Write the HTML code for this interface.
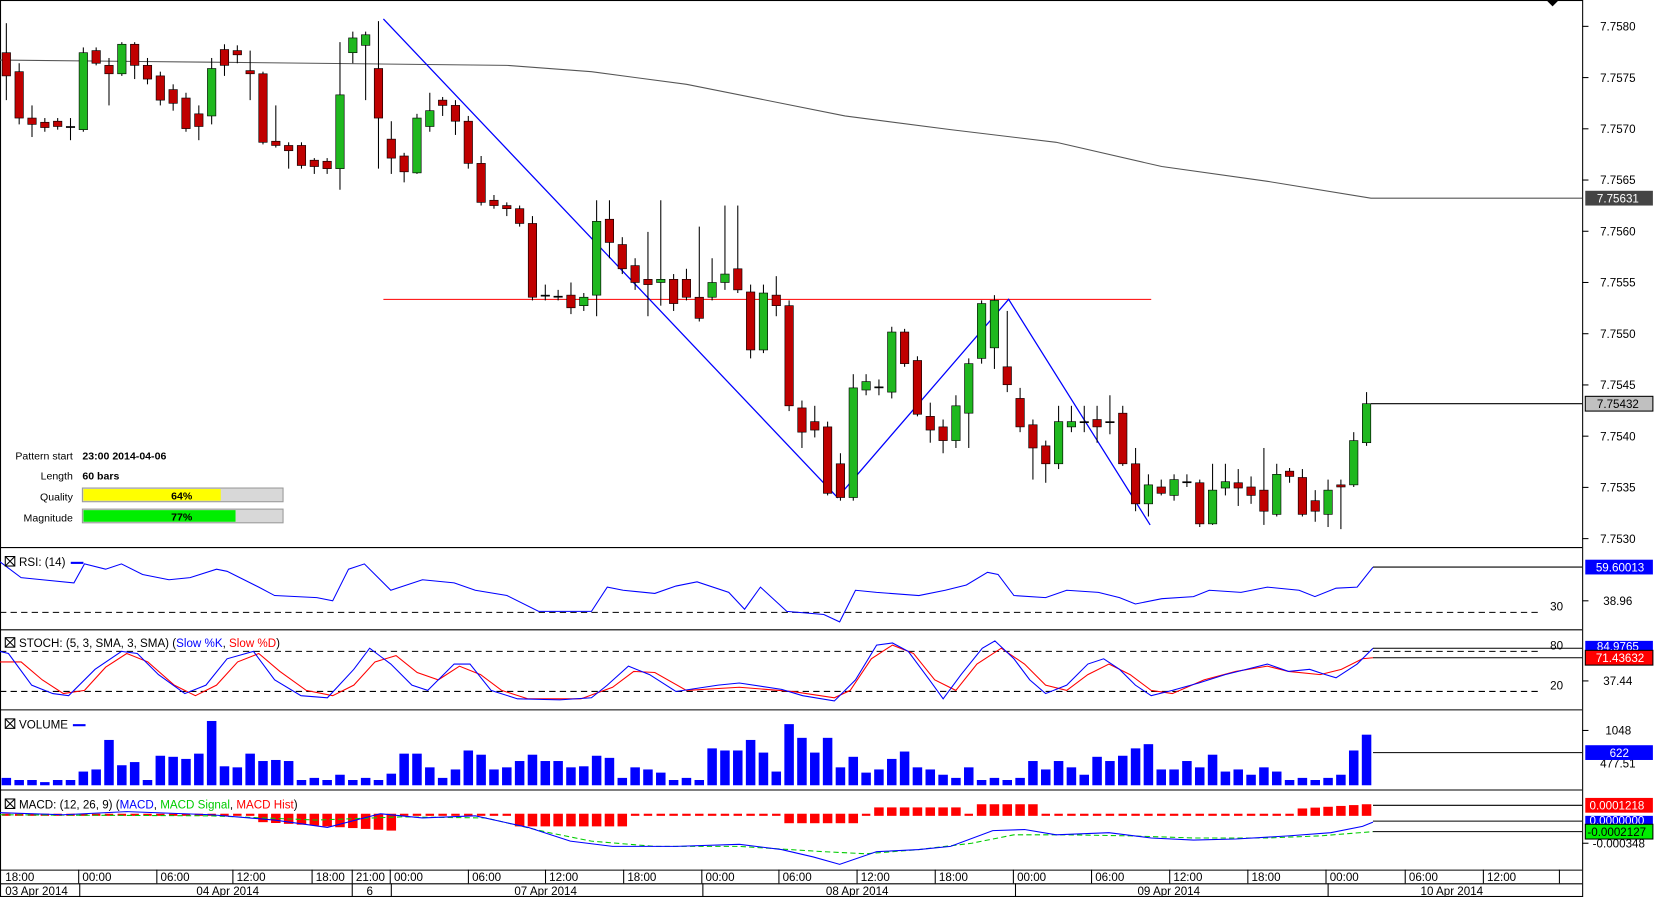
<!DOCTYPE html>
<html><head><meta charset="utf-8"><style>
html,body{margin:0;padding:0;background:#fff;overflow:hidden}
svg{display:block;font-family:"Liberation Sans",sans-serif}
</style></head><body>
<svg id="s" width="1655" height="897" viewBox="0 0 1567 851" preserveAspectRatio="none" xmlns="http://www.w3.org/2000/svg"></svg>
<script>
const S=document.getElementById('s');let h='';
const X=i=>6+12.15*i;
const C=[
['r',50,72,22,95],['r',68,112,60,118],['r',112,118,100,130],['r',116,121,112,125],['r',115,120,112,123],['d',120,121,112,133],
['g',50,123,45,125],['r',48,60,45,62],['r',62,70,55,100],['g',42,70,40,72],['r',42,62,40,75],['r',62,75,55,80],
['r',72,95,68,100],['r',85,98,80,105],['r',93,122,88,125],['r',108,120,100,133],['g',65,110,55,118],['r',47,62,42,72],
['r',48,52,43,60],['r',67,70,48,95],['r',70,135,68,137],['r',134,138,100,140],['r',138,143,135,160],['r',138,157,135,160],
['r',152,158,150,165],['r',153,160,150,165],['g',90,160,40,180],['g',36,50,30,60],['g',33,43,30,95],['r',65,112,20,160],
['r',132,150,115,165],['r',148,163,145,173],['g',112,164,108,165],['g',105,120,88,125],['r',95,100,92,110],['r',100,115,95,128],
['r',115,155,110,160],['r',155,192,148,195],['r',190,195,185,198],['r',195,198,192,205],['r',198,212,195,215],['r',212,282,205,285],
['d',280,281,270,285],['d',281,282,275,285],['r',280,292,268,298],['g',282,290,278,295],['g',210,280,190,300],['r',208,230,190,245],
['r',232,255,225,260],['r',252,268,245,275],['r',265,270,220,300],['g',265,268,190,290],['r',265,288,260,295],['r',265,282,255,285],
['r',282,302,215,305],['g',268,282,245,285],['g',260,268,195,275],['r',255,275,195,278],['r',277,332,270,340],['g',278,332,270,335],
['r',280,290,262,300],['r',290,385,285,390],['r',387,410,380,425],['r',400,408,385,415],['r',405,468,400,470],['r',440,472,430,475],
['g',368,472,355,475],['g',362,370,355,375],['d',367,368,360,375],['g',315,372,310,378],['r',315,345,312,348],['r',342,393,338,395],
['r',395,408,382,420],['r',405,418,398,430],['g',385,418,375,425],['g',345,392,340,425],['g',288,340,285,345],['g',285,330,280,350],
['r',348,365,295,372],['r',378,405,368,410],['r',403,425,398,455],['r',423,440,418,458],['g',400,440,385,445],['g',400,405,385,410],
['d',400,401,385,410],['r',398,405,385,420],['d',400,401,375,412],['r',392,440,385,442],['r',440,478,425,485],['g',460,478,450,490],
['r',462,468,455,470],['g',455,470,450,475],['d',457,458,450,462],['r',458,497,455,500],['g',465,497,440,498],['g',457,463,440,470],
['r',458,463,445,480],['r',462,470,452,478],['r',465,485,425,498],['g',450,488,440,490],['r',447,452,444,458],['r',453,488,445,490],
['r',475,485,465,495],['g',465,488,455,500],['r',460,462,455,502],['g',418,460,410,462],['g',383,420,372,423]];
// panel borders
h+='<rect x="0.5" y="0.5" width="1498" height="850" fill="none" stroke="#000"/>';
[519,597,673,749,825,838].forEach(y=>h+=`<line x1="0" x2="1498" y1="${y+.5}" y2="${y+.5}" stroke="#000"/>`);
// price ticks
for(let k=0;k<11;k++){const y=25+k*48.6;const v=(7.758-k*0.0005).toFixed(4);h+=`<line x1="1498" x2="1504" y1="${y}" y2="${y}" stroke="#000"/><text x="1515" y="${y+4}" font-size="11">${v}</text>`;}
// SMA
h+='<polyline fill="none" stroke="#555" points="0,57 200,59 480,62 560,68 650,80 800,110 900,123 1000,135 1100,158 1200,172 1298,188 1498,188"/>';
h+='<rect x="1501" y="181" width="64" height="14" fill="#444"/><text x="1512" y="192" font-size="11" fill="#fff">7.75631</text>';
h+='<line x1="363" x2="1090" y1="284" y2="284" stroke="#f00"/>';
h+='<polyline fill="none" stroke="#00f" stroke-width="1.2" points="363,18 793,472 955,284 1089,498"/>';
// candles
C.forEach((c,i)=>{const x=X(i);const col=c[0]=='g'?'#1fb81f':(c[0]=='r'?'#c00000':'#000');
h+=`<line x1="${x}" x2="${x}" y1="${c[3]}" y2="${c[4]}" stroke="#000"/>`;
h+=`<rect x="${x-4}" y="${c[1]}" width="8" height="${Math.max(1,c[2]-c[1])}" fill="${col}" stroke="#000" stroke-width="0.6"/>`;});
h+='<line x1="1298" x2="1498" y1="383" y2="383" stroke="#000"/><rect x="1501" y="376" width="64" height="14" fill="#c0c0c0" stroke="#000"/><text x="1512" y="387" font-size="11">7.75432</text>';
h+='<path d="M1464 0 L1476 0 L1470 6Z" fill="#000"/>';
// info
h+='<g font-size="10"><text x="69" y="436" text-anchor="end">Pattern start</text><text x="78" y="436" font-weight="bold">23:00 2014-04-06</text><text x="69" y="455" text-anchor="end">Length</text><text x="78" y="455" font-weight="bold">60 bars</text><text x="69" y="475" text-anchor="end">Quality</text><text x="69" y="495" text-anchor="end">Magnitude</text></g>';
h+='<rect x="78" y="463" width="190" height="13" fill="#d8d8d8" stroke="#999"/><rect x="79" y="464" width="130" height="11" fill="#ff0"/><text x="172" y="474" font-size="10" font-weight="bold" text-anchor="middle">64%</text>';
h+='<rect x="78" y="483" width="190" height="13" fill="#d8d8d8" stroke="#999"/><rect x="79" y="484" width="144" height="11" fill="#0e0"/><text x="172" y="494" font-size="10" font-weight="bold" text-anchor="middle">77%</text>';
// RSI
h+='<line x1="0" x2="1460" y1="581" y2="581" stroke="#000" stroke-dasharray="6,4"/><text x="1480" y="579" font-size="11" text-anchor="end">30</text>';
h+='<polyline fill="none" stroke="#00f" points="0,533 20,548 40,550 70,553 80,535 100,540 115,535 135,545 160,550 180,548 205,540 215,542 245,557 260,565 300,567 315,570 330,540 345,535 370,560 400,550 430,553 450,560 480,565 510,580 560,580 575,557 590,560 620,563 640,556 660,552 690,562 705,578 720,557 745,580 780,583 795,590 810,560 830,562 870,565 895,560 915,555 935,543 945,545 960,565 990,567 1010,560 1040,562 1060,567 1075,573 1100,568 1130,566 1145,560 1175,562 1200,557 1230,560 1245,566 1265,558 1285,557 1300,538"/>';
h+='<line x1="1300" x2="1498" y1="538" y2="538" stroke="#000"/><rect x="1501" y="531" width="64" height="14" fill="#00f"/><text x="1511" y="542" font-size="11" fill="#fff">59.60013</text>';
h+='<line x1="1498" x2="1504" y1="570" y2="570" stroke="#000"/><text x="1518" y="574" font-size="11">38.96</text>';
// STOCH
h+='<line x1="0" x2="1460" y1="618" y2="618" stroke="#000" stroke-dasharray="6,4"/><text x="1480" y="616" font-size="11" text-anchor="end">80</text>';
h+='<line x1="0" x2="1460" y1="656" y2="656" stroke="#000" stroke-dasharray="6,4"/><text x="1480" y="654" font-size="11" text-anchor="end">20</text>';
h+='<polyline fill="none" stroke="#f00" points="0,628 20,628 40,645 60,658 80,655 100,633 120,620 140,628 165,650 185,660 205,650 225,628 245,620 265,637 290,655 315,660 335,650 355,628 375,622 395,638 415,645 435,632 455,640 475,655 500,663 550,663 580,652 600,637 620,638 650,655 700,652 750,656 790,662 805,655 825,625 845,612 865,620 885,645 905,655 925,630 948,615 970,630 990,650 1010,655 1030,640 1050,630 1070,640 1090,655 1110,658 1140,645 1170,637 1200,632 1220,637 1250,640 1270,635 1290,625 1300,624"/>';
h+='<polyline fill="none" stroke="#00f" points="0,618 8,620 30,650 50,658 65,660 90,635 115,618 130,620 150,640 175,658 195,650 215,625 240,618 260,645 285,660 310,662 335,635 350,615 370,630 390,650 405,655 430,630 445,630 465,655 490,663 530,664 560,662 575,650 595,632 615,640 640,656 680,650 700,648 740,654 760,660 790,665 810,645 830,612 845,610 860,618 880,645 893,663 910,640 930,615 942,608 960,625 975,645 990,658 1010,650 1030,630 1045,625 1060,635 1075,650 1090,660 1110,655 1135,648 1160,640 1180,635 1200,630 1220,637 1240,635 1255,640 1265,643 1285,630 1300,615"/>';
h+='<line x1="1300" x2="1498" y1="615" y2="615" stroke="#000"/><line x1="1300" x2="1498" y1="624" y2="624" stroke="#000"/>';
h+='<rect x="1501" y="608" width="64" height="9" fill="#00f"/><text x="1512" y="617" font-size="11" fill="#fff">84.9765</text>';
h+='<rect x="1501" y="617" width="64" height="14" fill="#f00" stroke="#000"/><text x="1511" y="628" font-size="11" fill="#fff">71.43632</text>';
h+='<line x1="1498" x2="1504" y1="646" y2="646" stroke="#000"/><text x="1518" y="650" font-size="11">37.44</text>';
// volume
const V=[738,740,740,742,740,740,732,730,702,726,723,740,717,718,720,715,684,727,728,715,722,721,722,740,738,740,735,740,738,740,734,715,715,728,738,730,712,716,730,728,722,716,722,722,728,727,717,719,738,728,730,733,740,738,740,710,712,712,702,714,732,687,700,714,700,728,718,733,730,720,713,728,730,735,738,728,740,738,740,738,722,730,722,728,735,718,722,717,710,706,730,730,722,728,716,732,730,735,728,732,740,738,740,738,735,712,697];
V.forEach((v,i)=>h+=`<rect x="${X(i)-4.5}" y="${v}" width="9" height="${745-v}" fill="#00f"/>`);
h+='<line x1="1300" x2="1498" y1="714" y2="714" stroke="#000"/><line x1="1498" x2="1504" y1="693" y2="693" stroke="#000"/><text x="1520" y="697" font-size="11">1048</text><text x="1515" y="728" font-size="11">477.51</text>';
h+='<rect x="1501" y="707" width="64" height="14" fill="#00f"/><text x="1524" y="718" font-size="11" fill="#fff">622</text>';
// MACD hist
for(let i=0;i<107;i++){const x=X(i);let v=0;
if(i>=20&&i<=30)v=6+(i-20)*0.8;else if(i>=40&&i<=48)v=10;else if(i>=61&&i<=66)v=7;else if(i>=68&&i<=74)v=-6;else if(i>=76&&i<=80)v=-9;else if(i>=101)v=-5+(i-101)*-0.8;else v=i%2?1.5:1;
if(Math.abs(v)<2)h+=`<rect x="${x-4}" y="772" width="8" height="2" fill="#f00"/>`;
else h+=v>0?`<rect x="${x-4.5}" y="772" width="9" height="${v+2}" fill="#f00"/>`:`<rect x="${x-4.5}" y="${772+v}" width="9" height="${-v+2}" fill="#f00"/>`;}
h+='<polyline fill="none" stroke="#0c0" stroke-dasharray="5,3" points="0,773 200,774 300,778 380,775 460,776 520,790 560,798 620,803 700,803 780,808 820,810 870,806 920,800 960,792 1010,792 1070,793 1130,795 1200,795 1250,793 1300,789"/>';
h+='<polyline fill="none" stroke="#00f" points="0,771 60,773 120,770 200,773 260,778 310,785 360,772 400,776 450,774 500,785 540,798 580,803 640,803 700,801 740,806 770,813 795,820 830,808 870,806 900,803 940,788 970,787 1000,792 1050,790 1090,795 1130,797 1170,796 1220,793 1260,790 1290,784 1300,780"/>';
[764,779,789].forEach(y=>h+=`<line x1="1300" x2="1498" y1="${y}" y2="${y}" stroke="#000"/>`);
h+='<line x1="1498" x2="1504" y1="800" y2="800" stroke="#000"/><text x="1508" y="804" font-size="11">-0.000348</text>';
h+='<rect x="1501" y="757" width="64" height="14" fill="#f00"/><text x="1505" y="768" font-size="11" fill="#fff">0.0001218</text>';
h+='<rect x="1501" y="774" width="64" height="8" fill="#00f"/><text x="1505" y="782" font-size="11" fill="#fff">0.0000000</text>';
h+='<rect x="1501" y="782" width="64" height="14" fill="#0e0" stroke="#000"/><text x="1503" y="793" font-size="11">-0.0002127</text>';
// panel titles
function tt(y,t){h+=`<rect x="5" y="${y-8}" width="9" height="9" fill="#fff" stroke="#000"/><path d="M5 ${y-8}L14 ${y+1}M14 ${y-8}L5 ${y+1}" stroke="#000"/><text x="18" y="${y+1}" font-size="11">${t}</text>`;}
tt(536,'RSI: (14)');h+='<line x1="67" x2="79" y1="534" y2="534" stroke="#00f" stroke-width="2"/>';
tt(613,'STOCH: (5, 3, SMA, 3, SMA) (<tspan fill="#00f">Slow %K</tspan>, <tspan fill="#f00">Slow %D</tspan>)');
tt(690,'VOLUME');h+='<line x1="69" x2="81" y1="688" y2="688" stroke="#00f" stroke-width="2"/>';
tt(766,'MACD: (12, 26, 9) (<tspan fill="#00f">MACD</tspan>, <tspan fill="#0c0">MACD Signal</tspan>, <tspan fill="#f00">MACD Hist</tspan>)');
// time axis
const T=[[5,'18:00'],[78,'00:00'],[152,'06:00'],[224,'12:00'],[299,'18:00'],[337,'21:00'],[373,'00:00'],[447,'06:00'],[520,'12:00'],[594,'18:00'],[668,'00:00'],[741,'06:00'],[815,'12:00'],[889,'18:00'],[963,'00:00'],[1037,'06:00'],[1111,'12:00'],[1185,'18:00'],[1259,'00:00'],[1334,'06:00'],[1408,'12:00']];
T.forEach(([x,t],i)=>{h+=`<text x="${x}" y="836" font-size="11">${t}</text>`;if(i>0)h+=`<line x1="${x-3.5}" x2="${x-3.5}" y1="825" y2="838" stroke="#000"/>`;});
h+='<line x1="1476.5" x2="1476.5" y1="825" y2="838" stroke="#000"/>';
[75,333,370,665,961,1257].forEach(x=>h+=`<line x1="${x+.5}" x2="${x+.5}" y1="838" y2="851" stroke="#000"/>`);
[[5,'03 Apr 2014'],[487,'07 Apr 2014'],[782,'08 Apr 2014'],[1077,'09 Apr 2014'],[1345,'10 Apr 2014'],[186,'04 Apr 2014'],[347,'6']].forEach(([x,t])=>h+=`<text x="${x}" y="849" font-size="11">${t}</text>`);
S.innerHTML=h;
</script>
</body></html>
